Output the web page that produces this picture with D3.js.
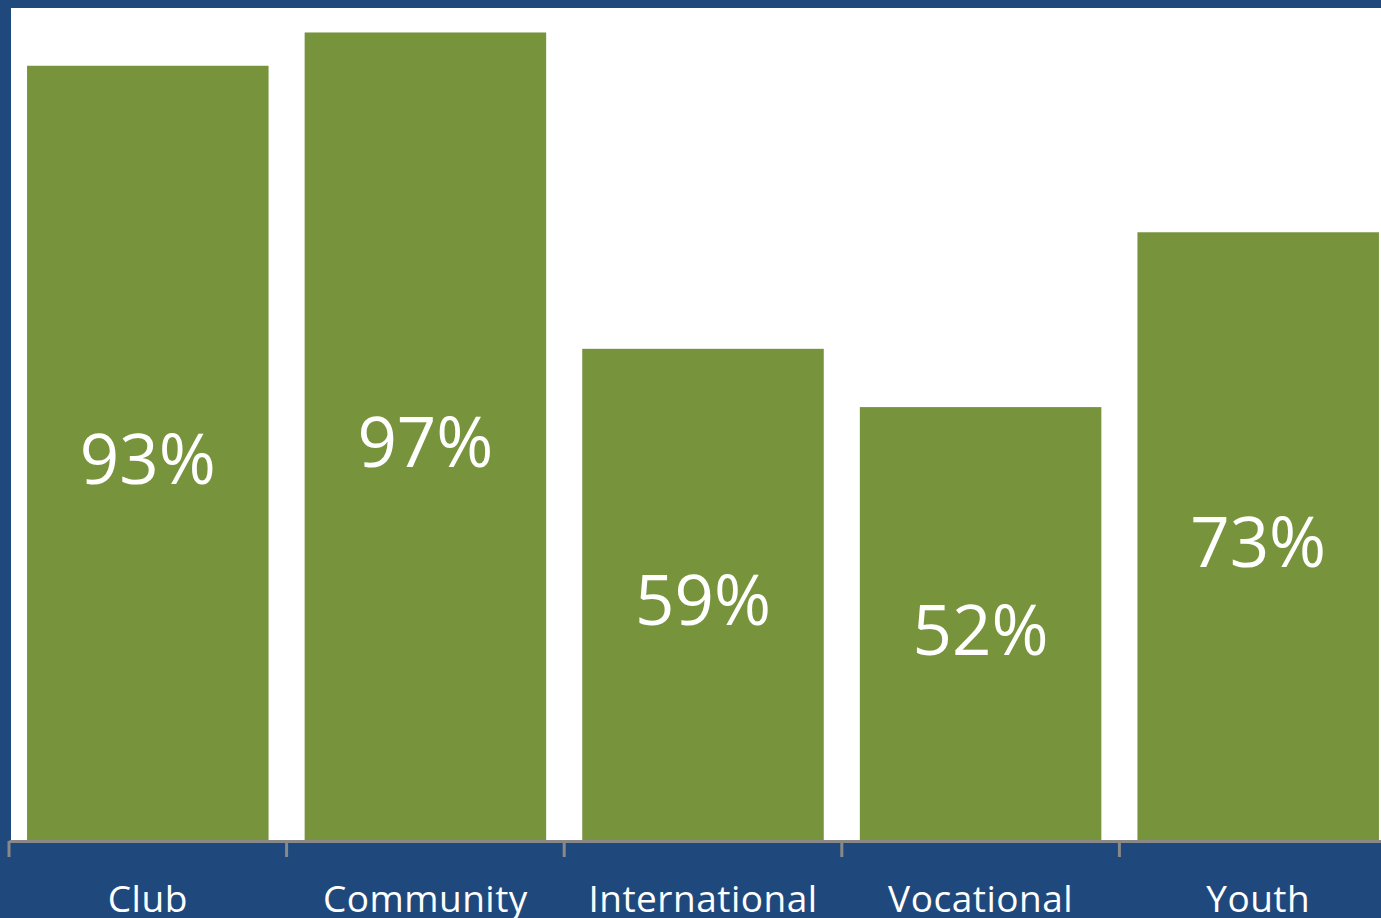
<!DOCTYPE html>
<html>
<head>
<meta charset="utf-8">
<script src="https://cdn.jsdelivr.net/npm/d3@7"></script>
<style>
  html, body { margin: 0; padding: 0; background: #1f497d; }
  svg { display: block; }
</style>
</head>
<body>
<svg id="chart" width="1381" height="918"></svg>
<script>
// Share of clubs taking part, by avenue of service
const categories = ["Club", "Community", "International", "Vocational", "Youth"];
const shares = [0.93, 0.97, 0.59, 0.52, 0.73];
const valueLabels = ["93%", "97%", "59%", "52%", "73%"];

const W = 1381, H = 918;
const svg = d3.select("#chart");

const frame = { left: 11, top: 8 };
const baseY = 840;

// dark blue frame with white plot panel
svg.append("rect").attr("width", W).attr("height", H).attr("fill", "#1f497d");
svg.append("rect")
  .attr("x", frame.left).attr("y", frame.top)
  .attr("width", W - frame.left).attr("height", baseY - frame.top)
  .attr("fill", "#ffffff");

const x = d3.scaleBand()
  .domain(categories)
  .range([9, 9 + 5 * 277.6])
  .paddingInner(0.13)
  .paddingOuter(0.065);

const y = d3.scaleLinear().domain([0, 1]).range([baseY, 7.5]);

const data = categories.map((c, i) => ({ c, v: shares[i], label: valueLabels[i] }));

svg.append("g").selectAll("rect").data(data).join("rect")
  .attr("x", d => x(d.c))
  .attr("y", d => y(d.v))
  .attr("width", x.bandwidth())
  .attr("height", d => y(0) - y(d.v))
  .attr("fill", "#77933c");

// value labels centred inside each bar
svg.append("g").selectAll("text").data(data).join("text")
  .attr("x", d => x(d.c) + x.bandwidth() / 2)
  .attr("y", d => (y(d.v) + y(0)) / 2 + 31)
  .attr("text-anchor", "middle")
  .attr("fill", "#ffffff")
  .style("font-family", "'Open Sans', sans-serif")
  .style("font-size", "69px")
  .text(d => d.label);

// category axis
const axis = svg.append("g")
  .attr("transform", `translate(0,${baseY + 1})`)
  .call(d3.axisBottom(x).tickSize(0).tickPadding(0));
axis.select(".domain").attr("stroke", "#898989").attr("stroke-width", 3);
axis.selectAll(".tick text")
  .attr("y", 71)
  .attr("dy", 0)
  .attr("fill", "#ffffff")
  .style("font-family", "'Open Sans', sans-serif")
  .style("font-size", "37px")
  .style("letter-spacing", "0.5px");

// tick marks at category boundaries
const step = x.step();
const bounds = d3.range(categories.length + 1).map(i => x.range()[0] + i * step);
axis.append("g").selectAll("line").data(bounds).join("line")
  .attr("x1", d => d).attr("x2", d => d)
  .attr("y1", 0).attr("y2", 16)
  .attr("stroke", "#898989").attr("stroke-width", 3);
</script>
</body>
</html>
